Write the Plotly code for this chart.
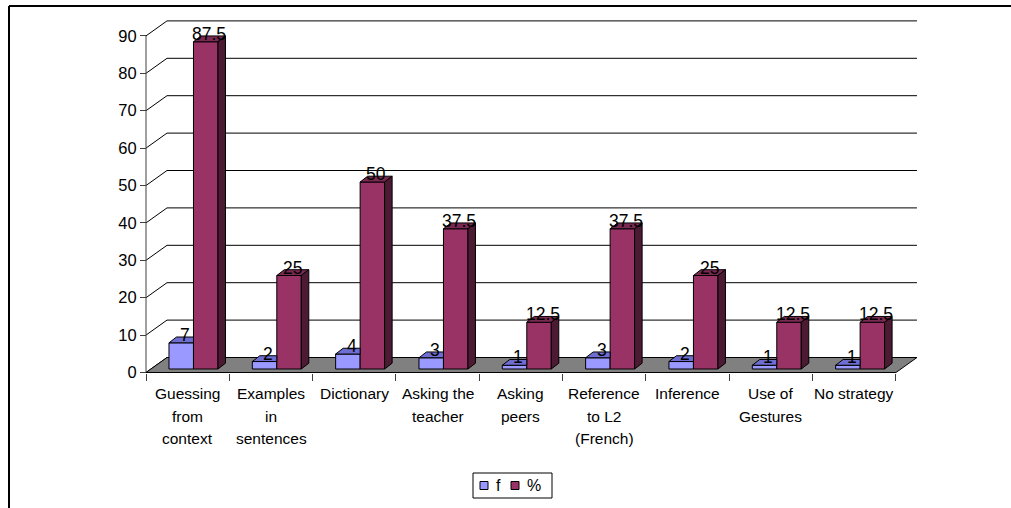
import plotly.graph_objects as go

# ---- data -------------------------------------------------------------
categories = [
    "Guessing<br>from<br>context",
    "Examples<br>in<br>sentences",
    "Dictionary",
    "Asking the<br>teacher",
    "Asking<br>peers",
    "Reference<br>to L2<br>(French)",
    "Inference",
    "Use of<br>Gestures",
    "No strategy",
]
f_values = [7, 2, 4, 3, 1, 3, 2, 1, 1]
pct_values = [87.5, 25, 50, 37.5, 12.5, 37.5, 25, 12.5, 12.5]
y_ticks = [0, 10, 20, 30, 40, 50, 60, 70, 80, 90]
series_names = ["f", "%"]

# ---- canvas / projection ----------------------------------------------
W, H = 1011, 508
PX_PER_CAT = 83.33          # pixels per category step
PX_PER_UNIT = 3.74          # pixels per value unit
AXIS_X_PX = 146.0           # front value axis position
ZERO_Y_PX = 372.5           # pixel row of value 0 on the front axis

x_lo = -0.5 - AXIS_X_PX / PX_PER_CAT
x_hi = -0.5 + (W - AXIS_X_PX) / PX_PER_CAT
y_hi = ZERO_Y_PX / PX_PER_UNIT
y_lo = -(H - ZERO_Y_PX) / PX_PER_UNIT

# depth of the walls / floor
WALL_DX = 21 / PX_PER_CAT
WALL_DY = 15 / PX_PER_UNIT
# bars sit a little back on the floor
BAR_BASE = 3.5 / PX_PER_UNIT
BAR_W = 24.5 / PX_PER_CAT
F_OFF = -18.7 / PX_PER_CAT
P_OFF = F_OFF + BAR_W
BAR_DX = 7.5 / PX_PER_CAT
BAR_DY = 5.8 / PX_PER_UNIT

F_FRONT, F_TOP = "#9999FF", "#6E6ED2"
P_FRONT, P_TOP, P_SIDE = "#993366", "#7A2952", "#4D1A33"
FONT = "Liberation Sans, Arial, sans-serif"

n = len(categories)
idx = list(range(n))


def px(x):
    return x / W


def py(y):
    return 1 - y / H


fig = go.Figure()

# front faces of the columns
fig.add_trace(go.Bar(
    x=idx, y=f_values, base=BAR_BASE, width=BAR_W, offset=F_OFF,
    marker=dict(color=F_FRONT, line=dict(color="black", width=1)),
    name=series_names[0], showlegend=False, hoverinfo="skip",
))
fig.add_trace(go.Bar(
    x=idx, y=pct_values, base=BAR_BASE, width=BAR_W, offset=P_OFF,
    marker=dict(color=P_FRONT, line=dict(color="black", width=1)),
    name=series_names[1], showlegend=False, hoverinfo="skip",
))


def face(xs, ys, color):
    fig.add_trace(go.Scatter(
        x=xs + [xs[0]], y=ys + [ys[0]], mode="lines", fill="toself",
        fillcolor=color, line=dict(color="black", width=1),
        showlegend=False, hoverinfo="skip",
    ))


for i in idx:
    # top of the f column (right part hidden behind the taller % column)
    L = i + F_OFF
    R = L + BAR_W
    top = BAR_BASE + f_values[i]
    face([L, R, R, L + BAR_DX], [top, top, top + BAR_DY, top + BAR_DY], F_TOP)

    # % column: top and right side
    L = i + P_OFF
    R = L + BAR_W
    top = BAR_BASE + pct_values[i]
    face([L, R, R + BAR_DX, L + BAR_DX], [top, top, top + BAR_DY, top + BAR_DY], P_TOP)
    face([R, R + BAR_DX, R + BAR_DX, R],
         [BAR_BASE, BAR_BASE + BAR_DY, top + BAR_DY, top], P_SIDE)

shapes = []
# back wall gridlines
for v in y_ticks[1:]:
    shapes.append(dict(type="line", xref="x", yref="y", layer="below",
                       x0=-0.5 + WALL_DX, x1=n - 0.5 + WALL_DX,
                       y0=v + WALL_DY, y1=v + WALL_DY,
                       line=dict(color="black", width=1)))
# side wall gridlines
for v in y_ticks:
    shapes.append(dict(type="line", xref="x", yref="y", layer="below",
                       x0=-0.5, x1=-0.5 + WALL_DX, y0=v, y1=v + WALL_DY,
                       line=dict(color="black", width=1)))
# front value axis line
shapes.append(dict(type="line", xref="x", yref="y", layer="below",
                   x0=-0.5, x1=-0.5, y0=0, y1=y_ticks[-1],
                   line=dict(color="#404040", width=1)))
# floor
shapes.append(dict(type="path", xref="x", yref="y", layer="below",
                   path=(f"M {-0.5},0 L {n - 0.5},0 "
                         f"L {n - 0.5 + WALL_DX},{WALL_DY} "
                         f"L {-0.5 + WALL_DX},{WALL_DY} Z"),
                   fillcolor="#808080", line=dict(color="black", width=1)))
# chart frame (left and top edges)
shapes.append(dict(type="line", xref="paper", yref="paper",
                   x0=px(9), x1=px(9), y0=py(6), y1=py(H + 5),
                   line=dict(color="black", width=2)))
shapes.append(dict(type="line", xref="paper", yref="paper",
                   x0=px(9), x1=px(W + 5), y0=py(6), y1=py(6),
                   line=dict(color="black", width=2)))

annotations = []
# value labels
for i in idx:
    for vals, off in ((f_values, F_OFF), (pct_values, P_OFF)):
        annotations.append(dict(
            x=i + off + BAR_W / 2 + BAR_DX / 2, y=BAR_BASE + vals[i],
            xref="x", yref="y", text=f"{vals[i]:g}", showarrow=False,
            xanchor="center", yanchor="bottom", yshift=-4,
            font=dict(family=FONT, size=17.5, color="black"),
        ))
# category labels, one annotation per line
LINE_STEP = 22.5
FIRST_LINE_Y = 393.5
for i, lab in enumerate(categories):
    for k, part in enumerate(lab.split("<br>")):
        annotations.append(dict(
            x=i, y=py(FIRST_LINE_Y + k * LINE_STEP), xref="x", yref="paper",
            text=part, showarrow=False, xanchor="center", yanchor="middle",
            font=dict(family=FONT, size=15.5, color="black"),
        ))

# legend box
LEG_Y = 485.5
shapes.append(dict(type="rect", xref="paper", yref="paper",
                   x0=px(473), x1=px(552), y0=py(473), y1=py(498),
                   line=dict(color="black", width=1), fillcolor="white"))
for (x0, col), name, tx in zip(((480, F_FRONT), (511, P_FRONT)), series_names, (494, 525)):
    shapes.append(dict(type="rect", xref="paper", yref="paper",
                       x0=px(x0), x1=px(x0 + 8), y0=py(LEG_Y - 4), y1=py(LEG_Y + 4),
                       line=dict(color="black", width=1), fillcolor=col))
    annotations.append(dict(x=px(tx), y=py(LEG_Y), xref="paper", yref="paper",
                            text=name, showarrow=False, xanchor="left",
                            yanchor="middle",
                            font=dict(family=FONT, size=16, color="black")))

fig.update_layout(
    width=W, height=H,
    margin=dict(l=0, r=0, t=0, b=0),
    paper_bgcolor="white", plot_bgcolor="white",
    barmode="overlay",
    showlegend=False,
    shapes=shapes,
    annotations=annotations,
    xaxis=dict(range=[x_lo, x_hi], autorange=False, anchor="free",
               position=py(ZERO_Y_PX), showgrid=False, zeroline=False,
               showline=False, ticks="outside", ticklen=7,
               tickcolor="#404040",
               tickvals=[i - 0.5 for i in range(n + 1)],
               showticklabels=False, fixedrange=True),
    yaxis=dict(range=[y_lo, y_hi], autorange=False, anchor="free",
               position=px(AXIS_X_PX), showgrid=False, zeroline=False,
               showline=False, ticks="outside", ticklen=6,
               tickcolor="#404040", tickvals=y_ticks,
               tickfont=dict(family=FONT, size=16.5, color="black"),
               fixedrange=True),
)

fig.write_html("out.html")
